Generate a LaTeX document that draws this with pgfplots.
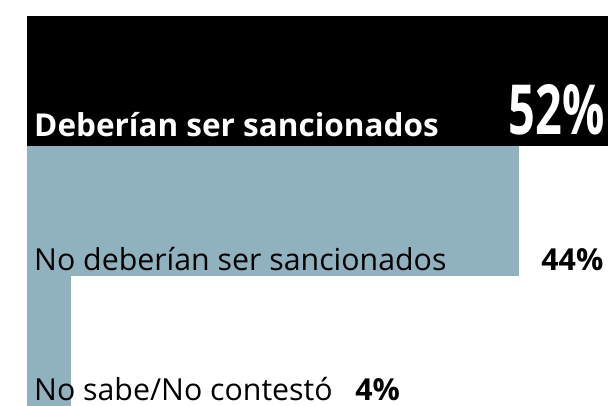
\documentclass[border=0pt]{standalone}
\usepackage{pgfplots}
\pgfplotsset{compat=1.18}
\usepackage{fontspec}
\setmainfont{Open Sans}
\definecolor{barblue}{RGB}{144,177,190}

\begin{document}
\begin{tikzpicture}
\path (0,0) rectangle (608bp,406bp);
\begin{axis}[
    at={(26.5bp,0)}, anchor=south west,
    width=581.5bp, height=390bp, scale only axis,
    xmin=0, xmax=52, ymin=-0.5, ymax=2.5, y dir=reverse,
    hide axis, clip=false,
    xbar, bar width=1, bar shift=0,
]
\addplot[fill=black, draw=none] coordinates {(52,0)};
\addplot[fill=barblue, draw=none] coordinates {(44,1)};
\addplot[fill=barblue, draw=none] coordinates {(4,2)};

\node[anchor=base west, inner sep=0, text=white, font=\fontsize{31.5bp}{33bp}\selectfont\bfseries]
    at (axis cs:0.67,0.43) {Deberían ser sancionados};
\node[anchor=base east, inner sep=0, text=white]
    at (axis cs:51.7,0.415) {\resizebox{96bp}{50bp}{\bfseries 52\%}};
\node[anchor=base west, inner sep=0, font=\fontsize{30.3bp}{32bp}\selectfont]
    at (axis cs:0.67,1.46) {No deberían ser sancionados};
\node[anchor=base east, inner sep=0, font=\fontsize{30.3bp}{32bp}\selectfont\bfseries]
    at (axis cs:51.6,1.46) {44\%};
\node[anchor=base west, inner sep=0, font=\fontsize{30.3bp}{32bp}\selectfont]
    at (axis cs:0.67,2.455) {No sabe/No contestó\hspace{0.75em}\textbf{4\%}};
\end{axis}
\end{tikzpicture}
\end{document}
